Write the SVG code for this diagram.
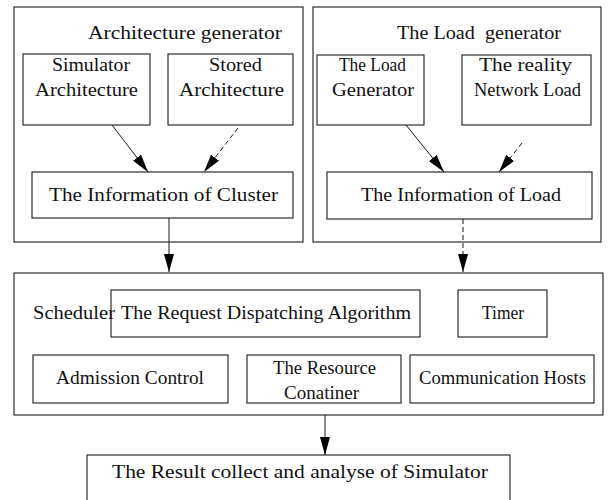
<svg xmlns="http://www.w3.org/2000/svg" width="608" height="500" viewBox="0 0 608 500">
<style>
.b{fill:none;stroke:#1a1a1a;stroke-width:1.1}
.t{font-family:"Liberation Serif","DejaVu Serif",serif;font-size:18px;fill:#111;text-anchor:start}
.c{stroke:#1a1a1a;stroke-width:1;fill:none}
.d{stroke:#1a1a1a;stroke-width:1;fill:none;stroke-dasharray:5 3}
</style>
<defs>
<marker id="ah" markerWidth="18" markerHeight="10" refX="18" refY="5" orient="auto" markerUnits="userSpaceOnUse">
<path d="M0,0 L18,5 L0,10 Z" fill="#000"/>
</marker>
</defs>
<rect width="608" height="500" fill="#fff"/>
<g id="arch-gen">
<rect class="b" x="14" y="7" width="289" height="235"/>
<text class="t" x="88" y="39" textLength="194" lengthAdjust="spacingAndGlyphs">Architecture generator</text>
</g>
<g id="sim-arch">
<rect class="b" x="23" y="54" width="127" height="71"/>
<text class="t" x="52" y="71" textLength="78" lengthAdjust="spacingAndGlyphs">Simulator</text>
<text class="t" x="35" y="96" textLength="103" lengthAdjust="spacingAndGlyphs">Architecture</text>
</g>
<g id="stored-arch">
<rect class="b" x="168" y="54" width="125" height="71"/>
<text class="t" x="209" y="71" textLength="53" lengthAdjust="spacingAndGlyphs">Stored</text>
<text class="t" x="179" y="96" textLength="105" lengthAdjust="spacingAndGlyphs">Architecture</text>
</g>
<g id="info-cluster">
<rect class="b" x="32" y="172" width="261" height="46"/>
<text class="t" x="49" y="201" textLength="229" lengthAdjust="spacingAndGlyphs">The Information of Cluster</text>
</g>
<g id="load-gen">
<rect class="b" x="313" y="7" width="288" height="235"/>
<text class="t" x="397" y="39" textLength="164" lengthAdjust="spacingAndGlyphs" xml:space="preserve">The Load  generator</text>
</g>
<g id="load-generator">
<rect class="b" x="317" y="55" width="107" height="70"/>
<text class="t" x="339" y="71" textLength="67" lengthAdjust="spacingAndGlyphs">The Load</text>
<text class="t" x="332" y="96" textLength="82" lengthAdjust="spacingAndGlyphs">Generator</text>
</g>
<g id="reality-load">
<rect class="b" x="462" y="55" width="129" height="70"/>
<text class="t" x="479" y="71" textLength="93" lengthAdjust="spacingAndGlyphs">The reality</text>
<text class="t" x="474" y="96" textLength="107" lengthAdjust="spacingAndGlyphs">Network Load</text>
</g>
<g id="info-load">
<rect class="b" x="327" y="172" width="265" height="47"/>
<text class="t" x="361" y="201" textLength="200" lengthAdjust="spacingAndGlyphs">The Information of Load</text>
</g>
<g id="scheduler">
<rect class="b" x="14" y="273" width="589" height="142"/>
<text class="t" x="33" y="319" textLength="82" lengthAdjust="spacingAndGlyphs">Scheduler</text>
</g>
<g id="dispatch">
<rect class="b" x="111" y="290" width="309" height="47"/>
<text class="t" x="121" y="319" textLength="290" lengthAdjust="spacingAndGlyphs">The Request Dispatching Algorithm</text>
</g>
<g id="timer">
<rect class="b" x="458" y="290" width="89" height="47"/>
<text class="t" x="482" y="319" textLength="42" lengthAdjust="spacingAndGlyphs">Timer</text>
</g>
<g id="admission">
<rect class="b" x="33" y="355" width="195" height="48"/>
<text class="t" x="56" y="384" textLength="148" lengthAdjust="spacingAndGlyphs">Admission Control</text>
</g>
<g id="resource">
<rect class="b" x="247" y="355" width="154" height="48"/>
<text class="t" x="273" y="374" textLength="103" lengthAdjust="spacingAndGlyphs">The Resource</text>
<text class="t" x="284" y="399" textLength="75" lengthAdjust="spacingAndGlyphs">Conatiner</text>
</g>
<g id="comm">
<rect class="b" x="410" y="355" width="184" height="48"/>
<text class="t" x="419" y="384" textLength="167" lengthAdjust="spacingAndGlyphs">Communication Hosts</text>
</g>
<g id="result">
<rect class="b" x="87" y="455" width="423" height="50"/>
<text class="t" x="112" y="478" textLength="376" lengthAdjust="spacingAndGlyphs">The Result collect and analyse of Simulator</text>
</g>
<g id="connectors">
<line class="c" x1="112" y1="125" x2="148" y2="172" marker-end="url(#ah)"/>
<line class="d" x1="238" y1="128" x2="204" y2="172" marker-end="url(#ah)"/>
<line class="c" x1="406" y1="125" x2="444" y2="172" marker-end="url(#ah)"/>
<line class="d" x1="522" y1="143" x2="499" y2="172" marker-end="url(#ah)"/>
<line class="c" x1="169" y1="218" x2="169" y2="272" marker-end="url(#ah)"/>
<line class="d" x1="463" y1="219" x2="463" y2="272" marker-end="url(#ah)"/>
<line class="c" x1="325" y1="415" x2="325" y2="455" marker-end="url(#ah)"/>
</g>
</svg>
